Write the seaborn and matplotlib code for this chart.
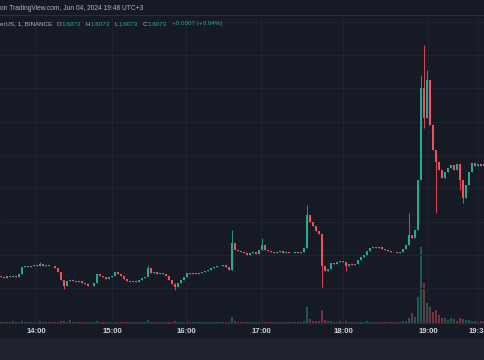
import matplotlib
matplotlib.use("Agg")
import matplotlib.pyplot as plt
from matplotlib.lines import Line2D
from matplotlib.patches import Rectangle
import numpy as np
import pandas as pd
import seaborn as sns

# 1-minute closes (one bar every ~3 px)
closes = [
    1.5734, 1.5731, 1.5737, 1.5734, 1.5737, 1.5734, 1.5743, 1.5764, 1.5767, 1.5764,
    1.5767, 1.5770, 1.5767, 1.5773, 1.5767, 1.5770, 1.5767, 1.5766, 1.5761, 1.5749,
    1.5725, 1.5707, 1.5722, 1.5725, 1.5722, 1.5719, 1.5722, 1.5716, 1.5713, 1.5707,
    1.5708, 1.5716, 1.5743, 1.5737, 1.5734, 1.5728, 1.5734, 1.5737, 1.5749, 1.5743,
    1.5737, 1.5728, 1.5722, 1.5719, 1.5722, 1.5719, 1.5725, 1.5731, 1.5734, 1.5761,
    1.5746, 1.5749, 1.5743, 1.5746, 1.5743, 1.5737, 1.5725, 1.5713, 1.5704, 1.5716,
    1.5725, 1.5734, 1.5746, 1.5743, 1.5746, 1.5743, 1.5746, 1.5749, 1.5752, 1.5755,
    1.5761, 1.5764, 1.5767, 1.5766, 1.5770, 1.5764, 1.5755, 1.5836, 1.5815, 1.5812,
    1.5809, 1.5806, 1.5800, 1.5806, 1.5809, 1.5803, 1.5815, 1.5830, 1.5815, 1.5812,
    1.5809, 1.5806, 1.5809, 1.5812, 1.5806, 1.5809, 1.5806, 1.5807, 1.5809, 1.5806,
    1.5809, 1.5821, 1.5920, 1.5899, 1.5887, 1.5872, 1.5863, 1.5767, 1.5752, 1.5758,
    1.5776, 1.5773, 1.5779, 1.5782, 1.5779, 1.5767, 1.5773, 1.5770, 1.5773, 1.5785,
    1.5794, 1.5800, 1.5812, 1.5821, 1.5824, 1.5821, 1.5824, 1.5818, 1.5815, 1.5812,
    1.5809, 1.5808, 1.5806, 1.5809, 1.5818, 1.5830, 1.5860, 1.5851, 1.5875, 1.6025,
    1.6301, 1.6211, 1.6325, 1.6190, 1.6115, 1.6079, 1.6055, 1.6031, 1.6049, 1.6061,
    1.6070, 1.6055, 1.6073, 1.6025, 1.5971, 1.6010, 1.6049, 1.6076, 1.6067, 1.6073,
    1.6067, 1.6073,
]
first_open = 1.5737

# bars with visible wicks: index, high, low
wick_idx = [13, 21, 49, 58, 77, 87, 102, 107, 115, 136, 140, 141, 142, 145, 153, 154]
wick_high = [1.5779, 1.5722, 1.5770, 1.5716, 1.5875, 1.5851, 1.5950, 1.5863, 1.5773,
             1.5926, 1.6340, 1.6430, 1.6355, 1.6115, 1.6055, 1.6025]
wick_low = [1.5767, 1.5698, 1.5746, 1.5695, 1.5755, 1.5815, 1.5821, 1.5704, 1.5752,
            1.5830, 1.6025, 1.6181, 1.6211, 1.5926, 1.5995, 1.5956]

# volume (thousands)
volumes = [
    1, 1, 1, 1, 2, 1, 1, 2, 1, 1, 1, 1, 1, 2, 1, 1, 1, 1, 1, 1,
    2, 2, 1, 3, 1, 1, 1, 1, 1, 1, 1, 1, 2, 1, 1, 1, 1, 1, 1, 1,
    1, 1, 1, 1, 1, 1, 1, 1, 1, 2.5, 1, 1, 1, 1, 1, 1, 1, 1, 2, 1,
    1, 1, 2, 1, 1, 1, 1, 1, 1, 1, 1, 1, 1, 1, 1, 1, 1, 6, 2, 1,
    1, 1, 1, 1, 1, 1, 1, 2, 1, 1, 1, 1, 1, 1, 1, 1, 1, 1, 1, 1,
    1, 2, 16, 4, 2, 2, 2, 13, 3, 2, 2, 1, 1, 2, 1, 2, 1, 1, 1, 1,
    1, 1, 2, 1, 1, 1, 1, 1, 1, 1, 1, 1, 1, 1, 2, 2, 5, 10, 6, 26,
    76, 40, 20, 16, 11, 13, 8, 5, 5, 3, 5, 4, 2, 5, 4, 3, 3, 2, 2, 2,
    2, 2,
]

tick_pos = [11.7, 37, 61.7, 86.7, 114, 142.3, 159]
tick_labels = ["14:00", "15:00", "16:00", "17:00", "18:00", "19:00", "19:35"]
grid_prices = [1.65, 1.64, 1.63, 1.62, 1.61, 1.60, 1.59, 1.58, 1.57]

BG = "#161a25"
GRID = "#20242f"
UP = "#22ab94"
DOWN = "#f0505d"
TXT = "#b2b5be"


def main():
    sns.set_theme(style="dark", rc={"axes.facecolor": BG, "figure.facecolor": BG})
    plt.rcParams["font.family"] = ["Liberation Sans", "DejaVu Sans"]

    df = pd.DataFrame({"close": closes, "volume": volumes})
    df["open"] = [first_open] + closes[:-1]
    df["high"] = df[["open", "close"]].max(axis=1)
    df["low"] = df[["open", "close"]].min(axis=1)
    df.loc[wick_idx, "high"] = wick_high
    df.loc[wick_idx, "low"] = wick_low
    df["x"] = np.arange(len(df))
    up = df["close"] >= df["open"]
    colors = np.where(up, UP, DOWN)

    fig = plt.figure(figsize=(4.85, 3.6), dpi=100, facecolor=BG)
    ax = fig.add_axes([0, 37 / 360, 1, 306 / 360])
    axv = ax.twinx()
    ax.set_zorder(2)
    ax.patch.set_visible(False)
    axv.set_facecolor(BG)

    # volume
    axv.bar(df["x"], df["volume"], width=0.7, color=colors, alpha=0.45, linewidth=0)
    axv.set_ylim(0, 304)
    axv.set_yticks([])
    axv.grid(False)

    # candles
    body = (df["close"] - df["open"]).abs().clip(lower=0.00012)
    ax.vlines(df["x"], df["low"], df["high"], colors=colors, linewidth=0.6)
    ax.bar(df["x"], body, bottom=df[["open", "close"]].min(axis=1), width=0.65,
           color=colors, linewidth=0)

    ax.set_xlim(-0.33, 161.33)
    ax.set_ylim(1.5596, 1.6514)
    ax.set_yticks(grid_prices)
    ax.set_yticklabels([])
    ax.set_xticks(tick_pos)
    ax.set_xticklabels(tick_labels)
    ax.tick_params(axis="x", length=0, pad=3.8, labelsize=5.6, labelcolor="#d1d4dc")
    ax.tick_params(axis="y", length=0)
    for lab in ax.get_xticklabels():
        lab.set_fontweight("bold")
    ax.grid(True, color=GRID, linewidth=0.7)
    sns.despine(ax=ax, left=True, right=True, top=True)
    sns.despine(ax=axv, left=True, right=True, top=True, bottom=True)
    ax.spines["bottom"].set_color("#2a2e39")
    ax.spines["bottom"].set_linewidth(0.8)

    # bottom panel and header separator
    fig.patches.append(Rectangle((0, 0), 1, 22 / 360, transform=fig.transFigure,
                                 facecolor="#1e222d", edgecolor="none"))
    fig.add_artist(Line2D([0, 1], [1 - 15 / 360] * 2, color="#2a2e39", linewidth=0.8))

    def px(x, y):
        return x / 485, 1 - y / 360

    fig.text(*px(0, 8), "on TradingView.com, Jun 04, 2024 19:48 UTC+3",
             color=TXT, fontsize=4.8, va="center", ha="left")
    legend = [
        (0, "erUS, 1, BINANCE", TXT), (57, "O", TXT), (61, "1.6073", UP),
        (86, "H", TXT), (90, "1.6073", UP), (115, "L", TXT), (118, "1.6073", UP),
        (143, "C", TXT), (147, "1.6073", UP), (172, "+0.0007 (+0.04%)", UP),
    ]
    for x, s, c in legend:
        fig.text(*px(x, 24), s, color=c, fontsize=4.5, va="center", ha="left")

    fig.savefig("out.png", dpi=100, facecolor=BG)


if __name__ == "__main__":
    main()
